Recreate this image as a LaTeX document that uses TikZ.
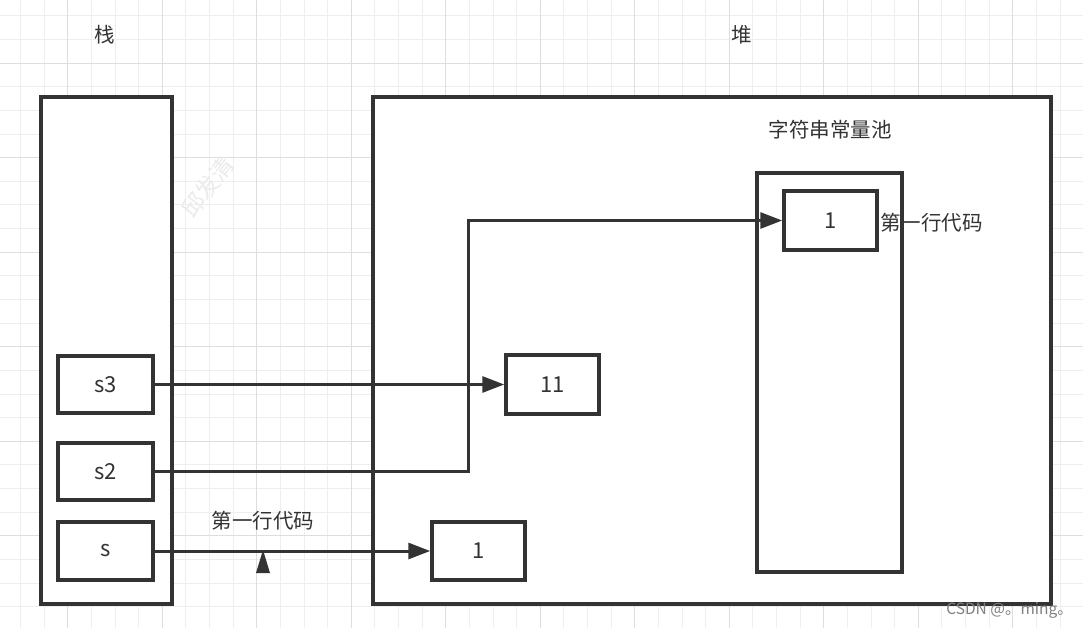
\documentclass[tikz,border=0pt]{standalone}
\usepackage{fontspec}
\setmainfont{Noto Sans CJK SC}
\usetikzlibrary{arrows.meta}
\definecolor{ink}{HTML}{333333}
\definecolor{gminor}{HTML}{EEEEEE}
\definecolor{gmajor}{HTML}{DEDEDE}
\begin{document}
\begin{tikzpicture}[x=1pt,y=-1pt,
  box/.style={draw=ink,line width=3.5pt,fill=white,inner sep=0pt,font=\fontsize{22}{24}\selectfont,text=ink},
  lbl/.style={font=\fontsize{20.5}{23}\selectfont,text=ink,inner sep=0pt},
  conn/.style={draw=ink,line width=3pt,-{Triangle[length=22pt,width=16pt]}}]
\useasboundingbox (0,0) rectangle (1083,628);
\fill[white] (0,0) rectangle (1083,628);
% grid
\foreach \i in {0,...,45} {
  \pgfmathsetmacro{\xx}{20.5+23.625*\i}
  \draw[gminor,line width=1pt] (\xx,0) -- (\xx,628);
}
\foreach \i in {0,...,26} {
  \pgfmathsetmacro{\yy}{16+23.625*\i}
  \draw[gminor,line width=1pt] (0,\yy) -- (1083,\yy);
}
\foreach \i in {0,...,11} {
  \pgfmathsetmacro{\xx}{67.75+94.5*\i}
  \draw[gmajor,line width=1pt] (\xx,0) -- (\xx,628);
}
\foreach \i in {0,...,6} {
  \pgfmathsetmacro{\yy}{63.25+94.5*\i}
  \draw[gmajor,line width=1pt] (0,\yy) -- (1083,\yy);
}
% titles
\node[lbl] (tstack) at (105,35) {栈};
\node[lbl] (theap) at (742,35) {堆};
% containers
\node[box,minimum width=131pt,minimum height=507pt] (stack) at (106.5,350.5) {};
\node[box,minimum width=678pt,minimum height=507pt] (heap) at (712,350.5) {};
% watermark
\node[text=black!8,font=\fontsize{23}{25}\selectfont,rotate=52,inner sep=0pt] (wm) at (208,187) {邱发清};
\node[lbl] (tpool) at (830,130) {字符串常量池};
\node[box,minimum width=145pt,minimum height=399pt] (pool) at (829.5,372.5) {};
% value boxes
\node[box,minimum width=93pt,minimum height=59pt] (p1) at (830.5,220.5) {1};
\node[lbl,anchor=west] (lp1) at (880,223) {第一行代码};
\node[box,minimum width=93pt,minimum height=59pt] (b11) at (552.5,384.5) {11};
\node[box,minimum width=93pt,minimum height=58pt] (b1) at (478.5,551) {1};
% stack vars
\node[box,minimum width=95pt,minimum height=57pt] (s3) at (105.5,384.5) {s3};
\node[box,minimum width=95pt,minimum height=57pt] (s2) at (105.5,471.5) {s2};
\node[box,minimum width=95pt,minimum height=58pt] (s) at (105.5,551) {s};
% connectors
\coordinate (bend) at (468,300);
\draw[conn] (s3.east) -- (b11.west);
\draw[conn] (s2.east) -- (s2.east -| bend) -- (bend |- p1.west) -- (p1.west);
\draw[conn] (s.east) -- (b1.west);
% marker
\coordinate (mk) at (263,550);
\fill[ink] (mk) -- ++(7,23) -- ++(-14,0) -- cycle;
\node[lbl] (lmk) at (263,521) {第一行代码};
% credit
\node[text=black!50,font=\fontsize{15.5}{17}\selectfont,inner sep=0pt,anchor=east] (credit) at (1073,610) {CSDN @。ming。};
\end{tikzpicture}
\end{document}
